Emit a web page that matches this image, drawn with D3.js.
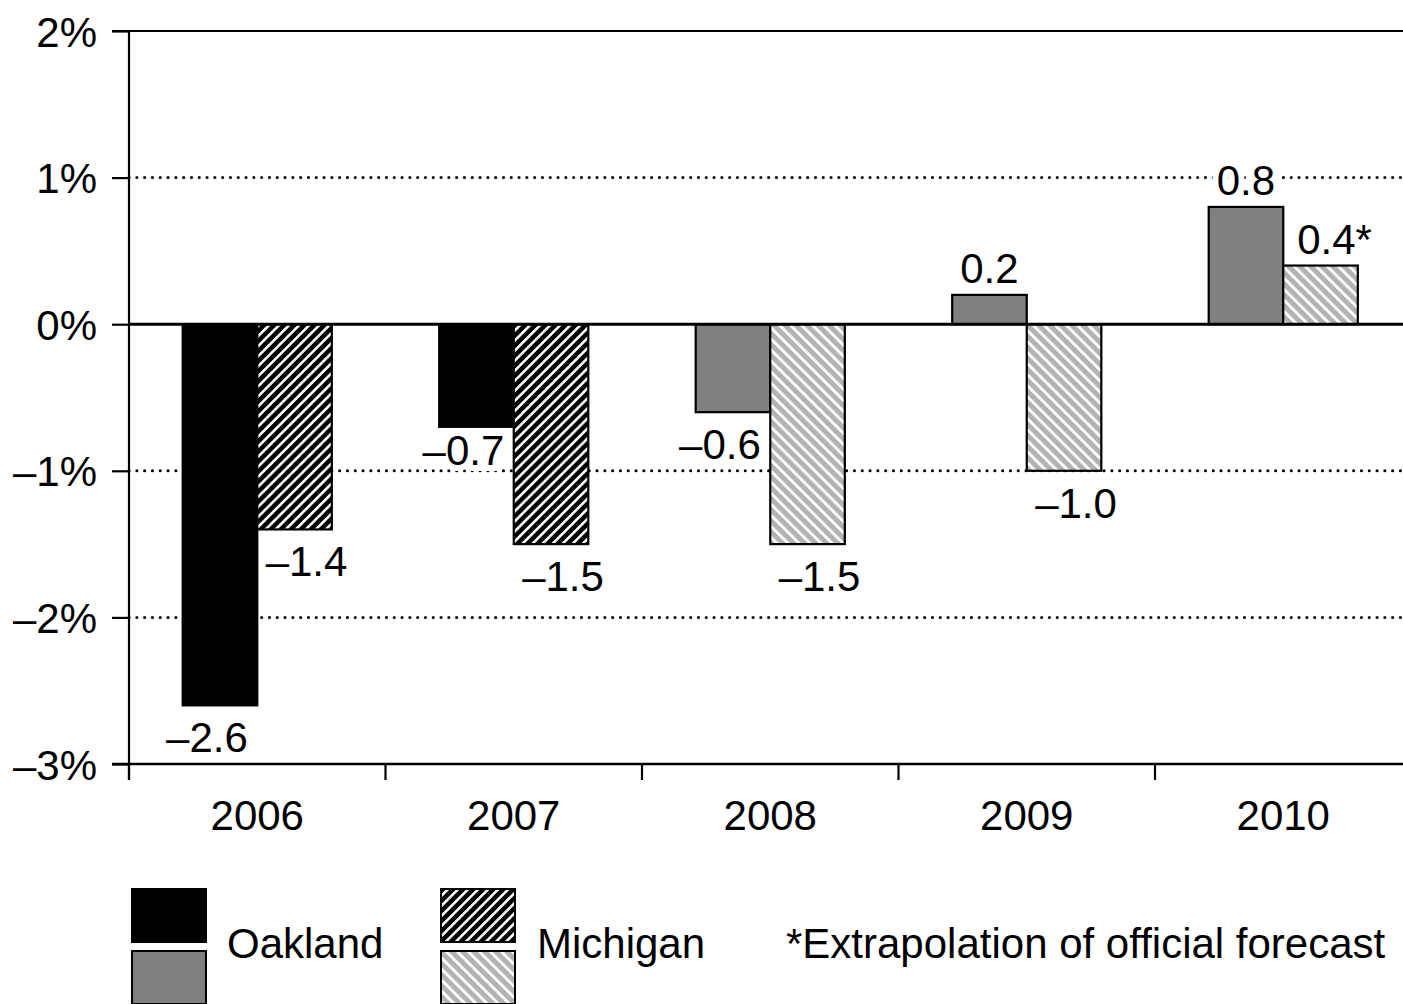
<!DOCTYPE html>
<html>
<head>
<meta charset="utf-8">
<script src="https://cdn.jsdelivr.net/npm/d3@7"></script>
<style>
  html, body { margin: 0; padding: 0; background: #fff; }
  svg { display: block; }
  text { font-family: "Liberation Sans", Arial, sans-serif; fill: #000; }
</style>
</head>
<body>
<svg id="chart" width="1403" height="1004"></svg>
<script>
// ---- data ----
const years = ["2006", "2007", "2008", "2009", "2010"];
const seriesNames = ["Oakland", "Michigan"];
const oakland = [-2.6, -0.7, -0.6, 0.2, 0.8];
const michigan = [-1.4, -1.5, -1.5, -1.0, 0.4];
const oaklandLabels = ["\u20132.6", "\u20130.7", "\u20130.6", "0.2", "0.8"];
const michiganLabels = ["\u20131.4", "\u20131.5", "\u20131.5", "\u20131.0", "0.4*"];
const forecastYears = ["2008", "2009", "2010"];
const yTicks = [2, 1, 0, -1, -2, -3];
const yTickLabels = ["2%", "1%", "0%", "\u20131%", "\u20132%", "\u20133%"];
const gridTicks = [1, -1, -2];
const footnote = "*Extrapolation of official forecast";

// ---- setup ----
const svg = d3.select("#chart");
const W = 1403, H = 1004;
const mLeft = 129, mTop = 31, mBottom = 764;
const FS = 42;

const x = d3.scaleBand().domain(years).range([mLeft, mLeft + 5 * 256.5]).padding(0);
const xInner = d3.scaleBand().domain(seriesNames).range([0, x.bandwidth()])
  .paddingInner(0).paddingOuter(0.72);
const y = d3.scaleLinear().domain([-3, 2]).range([mBottom, mTop]);

// patterns
const defs = svg.append("defs");
const pDark = defs.append("pattern").attr("id", "hatchDark")
  .attr("patternUnits", "userSpaceOnUse").attr("width", 7.1).attr("height", 7.1)
  .attr("patternTransform", "rotate(45)");
pDark.append("rect").attr("width", 7.1).attr("height", 7.1).attr("fill", "#000");
pDark.append("rect").attr("x", 0).attr("width", 2.6).attr("height", 7.1).attr("fill", "#fff");

const pLight = defs.append("pattern").attr("id", "hatchLight")
  .attr("patternUnits", "userSpaceOnUse").attr("width", 7.8).attr("height", 7.8)
  .attr("patternTransform", "rotate(-45)");
pLight.append("rect").attr("width", 7.8).attr("height", 7.8).attr("fill", "#b3b3b3");
pLight.append("rect").attr("x", 0).attr("width", 2.8).attr("height", 7.8).attr("fill", "#fff");

function fillFor(series, year) {
  const fc = forecastYears.includes(year);
  if (series === "Oakland") return fc ? "#808080" : "#000";
  return fc ? "url(#hatchLight)" : "url(#hatchDark)";
}

// grid lines (dotted)
svg.append("g").selectAll("line").data(gridTicks).join("line")
  .attr("x1", mLeft).attr("x2", W)
  .attr("y1", d => y(d)).attr("y2", d => y(d))
  .attr("stroke", "#000").attr("stroke-width", 3)
  .attr("stroke-linecap", "round")
  .attr("stroke-dasharray", "0.1,7.7");

// top frame line
svg.append("line").attr("x1", 112).attr("x2", W).attr("y1", y(2)).attr("y2", y(2))
  .attr("stroke", "#000").attr("stroke-width", 2.2);

// bar data
const barData = [];
years.forEach((yr, i) => {
  barData.push({ year: yr, series: "Oakland", v: oakland[i], label: oaklandLabels[i] });
  barData.push({ year: yr, series: "Michigan", v: michigan[i], label: michiganLabels[i] });
});

// label placement: avoid sitting on a grid line
function labelX(d) {
  const c = x(d.year) + xInner(d.series) + xInner.bandwidth() / 2;
  if (d.v >= 0) return c + (d.label.endsWith("*") ? 14 : 0);
  return c + (d.series === "Oakland" ? -13 : 12);
}
function labelY(d) {
  if (d.v >= 0) return y(d.v) - 12;
  let b = y(d.v) + 47;
  gridTicks.forEach(g => {
    const gy = y(g);
    if (gy > b - 32 && gy < b + 3) b = gy - 6;
  });
  return b;
}

// label halos (knock out grid dots behind labels)
svg.append("g").selectAll("text").data(barData).join("text")
  .attr("x", labelX).attr("y", labelY)
  .attr("text-anchor", "middle").attr("font-size", FS)
  .attr("fill", "#fff").attr("stroke", "#fff").attr("stroke-width", 12)
  .text(d => d.label);

// bars
svg.append("g").selectAll("rect").data(barData).join("rect")
  .attr("x", d => x(d.year) + xInner(d.series))
  .attr("width", xInner.bandwidth())
  .attr("y", d => y(Math.max(0, d.v)))
  .attr("height", d => Math.abs(y(d.v) - y(0)))
  .attr("fill", d => fillFor(d.series, d.year))
  .attr("stroke", "#000").attr("stroke-width", 2.2);

// zero line
svg.append("line").attr("x1", mLeft).attr("x2", W).attr("y1", y(0)).attr("y2", y(0))
  .attr("stroke", "#000").attr("stroke-width", 3);

// y axis
const yAxis = d3.axisLeft(y).tickValues(yTicks).tickSize(17)
  .tickFormat((d, i) => yTickLabels[i]);
const gy = svg.append("g").attr("transform", `translate(${mLeft},0)`).call(yAxis);
gy.select(".domain").remove();
gy.selectAll(".tick line").attr("stroke", "#000").attr("stroke-width", 2.2);
gy.selectAll(".tick text").attr("font-size", FS).attr("x", -32)
  .attr("dy", "0.36em").style("font-family", '"Liberation Sans", Arial, sans-serif');
svg.append("line").attr("x1", mLeft).attr("x2", mLeft).attr("y1", mTop - 1).attr("y2", mBottom + 16)
  .attr("stroke", "#000").attr("stroke-width", 2.2);

// x axis
svg.append("line").attr("x1", 112).attr("x2", W).attr("y1", mBottom).attr("y2", mBottom)
  .attr("stroke", "#000").attr("stroke-width", 2.6);
svg.append("g").selectAll("line").data(years).join("line")
  .attr("x1", d => x(d)).attr("x2", d => x(d))
  .attr("y1", mBottom).attr("y2", mBottom + 16)
  .attr("stroke", "#000").attr("stroke-width", 2.2);
svg.append("g").selectAll("text").data(years).join("text")
  .attr("x", d => x(d) + x.bandwidth() / 2)
  .attr("y", 830)
  .attr("text-anchor", "middle").attr("font-size", FS)
  .text(d => d);

// value labels
svg.append("g").selectAll("text").data(barData).join("text")
  .attr("x", labelX).attr("y", labelY)
  .attr("text-anchor", "middle").attr("font-size", FS)
  .text(d => d.label);

// legend
const legend = svg.append("g");
const legendBoxes = [
  { x: 132, y: 889, fill: "#000" },
  { x: 132, y: 951, fill: "#808080" },
  { x: 441, y: 889, fill: "url(#hatchDark)" },
  { x: 441, y: 951, fill: "url(#hatchLight)" }
];
legend.selectAll("rect").data(legendBoxes).join("rect")
  .attr("x", d => d.x).attr("y", d => d.y).attr("width", 74).attr("height", 53)
  .attr("fill", d => d.fill).attr("stroke", "#000").attr("stroke-width", 2);
legend.append("text").attr("x", 227).attr("y", 958).attr("font-size", FS).text(seriesNames[0]);
legend.append("text").attr("x", 537).attr("y", 958).attr("font-size", FS).text(seriesNames[1]);
legend.append("text").attr("x", 786).attr("y", 958).attr("font-size", FS).text(footnote);
</script>
</body>
</html>
